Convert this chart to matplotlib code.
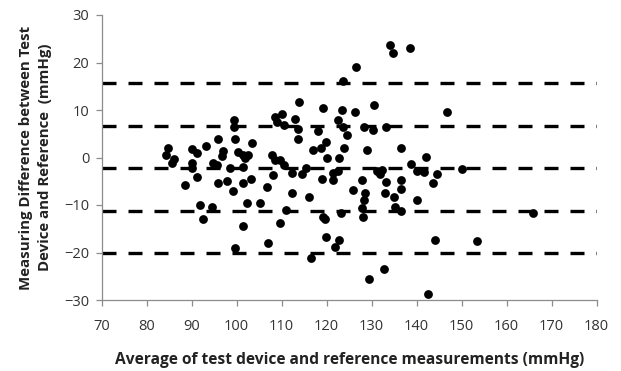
import matplotlib
matplotlib.use("Agg")
import matplotlib.pyplot as plt

# Bland-Altman data (mean, difference) in mmHg
avg_mmhg = [
    84.8, 84.3, 86.1, 85.6, 88.5, 90.0, 91.1, 90.0, 90.0, 91.1,
    93.1, 91.8, 92.6, 94.6, 95.9, 97.0, 96.7, 94.8, 95.6, 95.9,
    97.8, 98.5, 99.2, 99.5, 99.3, 99.6, 100.3, 101.5, 102.6, 101.8,
    101.5, 101.3, 103.2, 103.5, 102.2, 105.2, 101.5, 99.6, 106.7, 108.1,
    107.8, 108.5, 109.6, 110.6, 108.5, 110.0, 109.0, 110.4, 113.0, 113.9,
    113.7, 113.7, 112.2, 112.3, 107.0, 109.7, 111.0, 114.6, 115.5, 116.0,
    116.4, 117.0, 118.1, 118.7, 119.1, 119.9, 120.0, 118.9, 121.3, 121.5,
    122.6, 119.2, 119.7, 119.9, 122.7, 121.9, 123.2, 122.7, 122.6, 123.3,
    123.6, 124.5, 123.8, 123.6, 126.4, 126.2, 128.3, 128.9, 130.4, 130.3,
    125.9, 127.8, 128.6, 128.3, 127.8, 128.0, 129.3, 131.2, 134.1, 134.7,
    138.4, 133.1, 136.5, 138.7, 140.0, 141.6, 142.1, 144.4, 143.6, 146.8,
    150.1, 132.2, 131.9, 133.1, 133.0, 136.5, 136.6, 135.0, 135.2, 136.4,
    140.0, 144.1, 153.5, 132.7, 142.4, 165.9,
]
diff_mmhg = [
    1.9, 0.5, -0.4, -1.2, -5.8, 1.8, 1.0, -1.2, -2.2, -4.2,
    2.4, -10.1, -13.0, -10.5, 3.9, 1.4, 0.3, -1.2, -1.6, -5.4,
    -5.0, -2.3, -7.0, 7.9, 6.5, 4.0, 1.2, 0.5, 0.5, -0.2,
    -1.9, -5.4, -4.6, 3.0, -9.6, -9.6, -14.5, -19.1, -6.2, -3.7,
    0.5, -0.5, -0.5, -1.6, 8.5, 9.2, 7.4, 6.9, 8.1, 11.7,
    6.0, 4.0, -3.2, -7.5, -17.9, -13.7, -11.1, -3.4, -2.3, -8.3,
    -21.2, 1.6, 5.5, 2.1, 10.4, 3.3, -0.2, -4.5, -4.7, -3.3,
    -2.9, -12.6, -13.0, -16.8, -17.3, -18.8, -11.7, -0.2, 7.9, 10.1,
    6.5, 4.7, 2.0, 16.2, 19.1, 9.6, 6.5, 1.6, 11.1, 5.8,
    -6.8, -4.7, -7.5, -9.0, -10.6, -12.5, -25.6, -2.8, 23.7, 22.1,
    23.0, 6.5, 1.9, -1.4, -2.8, -3.1, 0.2, -3.5, -5.3, 9.6,
    -2.4, -2.6, -3.5, -5.1, -7.5, -4.7, -6.6, -8.4, -10.5, -11.2,
    -8.9, -17.4, -17.5, -23.5, -28.7, -11.6,
]

# mean difference and the +/-1 SD, +/-2 SD limits
ref_lines = [15.7, 6.6, -2.2, -11.2, -20.2]

x_ticks = [70, 80, 90, 100, 110, 120, 130, 140, 150, 160, 170, 180]
y_ticks = [-30, -20, -10, 0, 10, 20, 30]

plt.rcParams['font.family'] = ['Open Sans', 'DejaVu Sans']

fig = plt.figure(figsize=(6.21, 3.71), dpi=100)
ax = fig.add_axes([101.7 / 621, 71 / 371, 495 / 621, 285 / 371])

for y in ref_lines:
    ax.axhline(y, color='black', linewidth=2.4, dashes=(4.2, 3.6), zorder=1)

ax.scatter(avg_mmhg, diff_mmhg, s=40, color='black', linewidths=0, zorder=3)

ax.set_xlim(70, 180)
ax.set_ylim(-30, 30)
ax.set_xticks(x_ticks)
ax.set_yticks(y_ticks)

for side in ['top', 'right']:
    ax.spines[side].set_visible(False)
for side in ['left', 'bottom']:
    ax.spines[side].set_color('#8c8c8c')
    ax.spines[side].set_linewidth(0.9)

ax.tick_params(axis='both', direction='out', length=4, width=0.9,
               color='#8c8c8c', labelsize=10.5, labelcolor='#333333', pad=5)
ax.tick_params(axis='x', pad=10)

ax.set_xlabel("Average of test device and reference measurements (mmHg)",
              fontsize=11.2, fontweight='bold', color='#222222', labelpad=13)
ax.set_ylabel("Measuring Difference between Test\nDevice and Reference  (mmHg)",
              fontsize=10.8, fontweight='bold', color='#222222', labelpad=9,
              linespacing=1.45)

fig.savefig("out.png", dpi=100)
